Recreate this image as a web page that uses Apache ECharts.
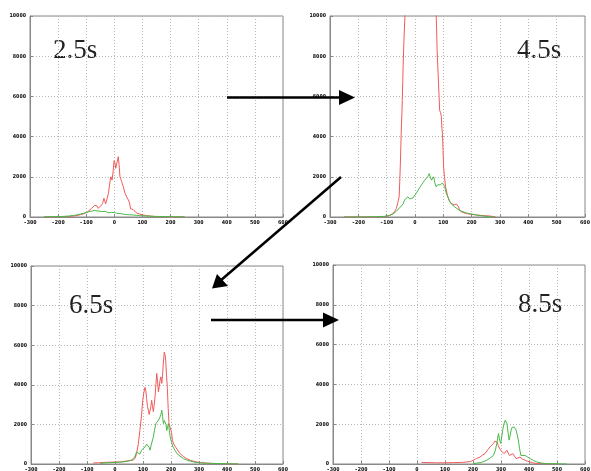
<!DOCTYPE html>
<html><head><meta charset="utf-8">
<script src="https://cdn.jsdelivr.net/npm/echarts@6/dist/echarts.min.js"></script>
<style>html,body{margin:0;padding:0;background:#fff}#c{width:591px;height:471px}</style>
</head><body><div id="c"></div>
<script>
// tick labels
const xTicks = [-300,-200,-100,0,100,200,300,400,500,600];
const yTicks = [0,2000,4000,6000,8000,10000];
const panelLabels = ['2.5s','4.5s','6.5s','8.5s'];

// 2.5 s
const t25Red = [[-250,0],[-220,10],[-200,20],[-180,10],[-160,30],[-150,40],[-140,60],[-130,80],[-120,120],[-110,150],[-104,180],[-95,260],[-88,330],[-81,430],[-75,500],[-70,580],[-66,650],[-62,560],[-57,430],[-52,520],[-45,600],[-41,720],[-37,930],[-34,800],[-31,650],[-27,850],[-21,1180],[-17,1600],[-13,2000],[-10,2050],[-8,1840],[-4,2300],[-1,2800],[2,2700],[5,2420],[9,2500],[14,3000],[17,2600],[20,2000],[23,1900],[26,1760],[32,1500],[38,1180],[44,1000],[50,850],[54,700],[58,400],[63,420],[67,380],[73,300],[79,200],[90,150],[103,100],[115,70],[126,50],[140,30],[150,10],[170,0],[200,0],[250,0]];
const t25Green = [[-250,10],[-230,15],[-200,20],[-180,30],[-160,50],[-145,80],[-134,100],[-120,150],[-104,200],[-95,240],[-87,280],[-78,300],[-70,320],[-63,340],[-58,300],[-51,250],[-45,270],[-38,290],[-33,280],[-26,230],[-20,210],[-16,200],[-10,230],[-5,210],[0,220],[8,190],[14,180],[20,170],[30,150],[43,120],[55,110],[67,100],[78,85],[90,70],[105,55],[126,40],[150,30],[180,20],[210,15],[250,10]];

// 4.5 s
const t45Red = [[-250,0],[-150,0],[-120,10],[-101,20],[-90,80],[-78,170],[-72,280],[-66,420],[-61,700],[-56,1000],[-54,1700],[-52,2500],[-50,3500],[-48,4480],[-46,5200],[-45,5800],[-43,6800],[-42,7470],[-39,8800],[-36,9800],[-33,10600],[-25,12000],[0,14000],[30,15000],[60,13000],[72,11000],[76,9500],[78,8300],[82,7000],[85,6000],[87,5310],[90,5200],[93,5000],[95,4400],[97,4150],[99,3300],[101,2490],[104,2000],[108,1500],[114,1100],[120,830],[126,700],[131,650],[138,600],[146,650],[150,700],[154,500],[157,330],[165,250],[181,170],[200,130],[217,100],[240,70],[264,50],[285,0]];
const t45Green = [[-250,0],[-200,0],[-150,10],[-110,30],[-89,80],[-78,150],[-66,280],[-55,450],[-48,550],[-42,650],[-38,800],[-34,900],[-29,850],[-25,1000],[-19,900],[-13,830],[-7,950],[-1,1000],[5,1200],[11,1330],[16,1450],[22,1580],[28,1700],[34,1830],[40,1830],[45,2000],[50,2160],[54,2000],[58,1830],[62,1900],[66,2000],[70,1700],[75,1500],[80,1600],[85,1660],[90,1600],[97,1700],[101,1600],[105,1500],[110,1200],[116,1000],[122,800],[128,650],[134,580],[140,500],[148,420],[157,330],[170,260],[181,200],[200,150],[217,100],[240,50],[260,20],[280,0]];

// 6.5 s
const t65Red = [[-78,50],[-60,60],[-40,80],[-20,90],[0,100],[18,100],[40,150],[65,190],[72,300],[77,530],[83,1000],[89,1700],[95,2500],[99,3220],[103,3600],[107,3870],[110,3700],[113,3310],[116,2900],[119,2720],[122,2500],[125,2550],[128,2900],[131,3220],[134,2900],[137,2640],[140,3000],[143,3390],[146,4000],[149,4575],[152,4200],[155,3640],[158,3900],[161,4240],[164,4400],[167,4070],[170,4500],[173,5200],[176,5650],[179,5500],[181,5250],[184,4500],[187,3815],[190,2800],[193,2040],[196,1950],[199,2040],[202,1600],[205,1200],[210,1000],[216,860],[224,700],[232,530],[244,380],[256,270],[270,180],[292,100],[320,50],[350,20],[400,10],[440,0]];
const t65Green = [[-53,30],[-30,60],[0,80],[20,100],[40,120],[60,200],[70,350],[77,600],[83,530],[89,500],[95,700],[101,800],[107,860],[113,1000],[119,1030],[122,850],[125,700],[130,1000],[137,1370],[141,1700],[146,2040],[150,2100],[155,2210],[158,2300],[161,2380],[164,2500],[167,2720],[170,2400],[173,2040],[176,2200],[179,2300],[182,2000],[185,1690],[188,1900],[191,2040],[194,1700],[197,1370],[202,1100],[207,860],[214,700],[221,530],[232,400],[245,270],[260,180],[281,100],[310,50],[350,30],[400,15],[440,0]];

// 8.5 s
const t85Red = [[16,80],[40,70],[70,60],[100,60],[130,70],[160,80],[190,120],[201,190],[213,280],[225,350],[234,450],[243,520],[252,700],[261,860],[267,950],[273,1030],[278,1150],[282,1250],[286,1100],[290,940],[294,800],[299,690],[305,600],[311,520],[316,600],[321,690],[326,550],[330,430],[336,480],[342,520],[348,400],[354,270],[360,300],[368,350],[376,250],[386,190],[395,140],[404,100],[416,50],[428,20],[460,10],[500,0]];
const t85Green = [[200,20],[230,80],[249,190],[261,300],[273,430],[280,700],[285,1030],[288,1300],[291,1530],[295,1200],[299,1030],[303,1400],[306,1700],[310,2000],[315,2200],[318,2150],[321,2030],[325,1600],[329,1200],[333,1450],[336,1700],[340,1850],[344,1950],[348,1850],[354,1700],[358,1450],[362,1200],[366,800],[371,430],[378,400],[386,430],[395,350],[404,270],[416,180],[428,100],[445,50],[462,20],[500,10],[535,0]];

const reds = [t25Red, t45Red, t65Red, t85Red];
const greens = [t25Green, t45Green, t65Green, t85Green];

const grids = [
  {left:30, top:16, width:253, height:201},
  {left:330, top:16, width:255, height:201},
  {left:31, top:266, width:252, height:198},
  {left:333, top:265, width:252, height:199}
];

const lblStyle = {fontSize:5.5, fontWeight:'bold', color:'#000', fontFamily:'DejaVu Sans Mono', formatter: v => String(v)};
const option = {
  animation:false,
  backgroundColor:'#fff',
  grid: grids.map(g => Object.assign({show:true, borderColor:'#888', borderWidth:1, backgroundColor:'transparent', outerBoundsMode:'none', containLabel:false}, g)),
  xAxis: grids.map((g,i) => ({
    type:'value', gridIndex:i, min:xTicks[0], max:xTicks[xTicks.length-1], interval:100,
    axisLine:{show:true, onZero:false, lineStyle:{color:'#888', width:1}},
    axisTick:{show:true, inside:true, length:3, lineStyle:{color:'#888'}},
    axisLabel:Object.assign({margin:3}, lblStyle),
    splitLine:{show:true, lineStyle:{type:[1,2], color:'#b8b8b8', width:1}}
  })),
  yAxis: grids.map((g,i) => ({
    type:'value', gridIndex:i, min:yTicks[0], max:yTicks[yTicks.length-1], interval:2000,
    axisLine:{show:true, onZero:false, lineStyle:{color:'#888', width:1}},
    axisTick:{show:true, inside:true, length:3, lineStyle:{color:'#888'}},
    axisLabel:Object.assign({margin:4}, lblStyle),
    splitLine:{show:true, lineStyle:{type:[1,2], color:'#b8b8b8', width:1}}
  })),
  series: [].concat(
    reds.map((d,i) => ({type:'line', xAxisIndex:i, yAxisIndex:i, data:d, showSymbol:false, symbol:'none', clip:true, lineStyle:{color:'#f05a5a', width:1}, z:3})),
    greens.map((d,i) => ({type:'line', xAxisIndex:i, yAxisIndex:i, data:d, showSymbol:false, symbol:'none', clip:true, lineStyle:{color:'#48b848', width:1}, z:4}))
  ),
  graphic: [
    {type:'text', left:53, top:37, style:{text:panelLabels[0], font:'27px "Liberation Serif", "Times New Roman", serif', fill:'#222'}},
    {type:'text', left:517, top:37, style:{text:panelLabels[1], font:'27px "Liberation Serif", "Times New Roman", serif', fill:'#222'}},
    {type:'text', left:69, top:292, style:{text:panelLabels[2], font:'27px "Liberation Serif", "Times New Roman", serif', fill:'#222'}},
    {type:'text', left:518, top:291, style:{text:panelLabels[3], font:'27px "Liberation Serif", "Times New Roman", serif', fill:'#222'}},
    // arrows
    {type:'line', shape:{x1:227, y1:97.5, x2:342, y2:97.5}, style:{stroke:'#000', lineWidth:2.5}, z:10},
    {type:'polygon', shape:{points:[[355,97.5],[339,90],[339,105]]}, style:{fill:'#000'}, z:10},
    {type:'line', shape:{x1:341, y1:177, x2:220, y2:281}, style:{stroke:'#000', lineWidth:2.5}, z:10},
    {type:'polygon', shape:{points:[[212,288.5],[217,274],[228,286]]}, style:{fill:'#000'}, z:10},
    {type:'line', shape:{x1:211, y1:320, x2:326, y2:320}, style:{stroke:'#000', lineWidth:2.5}, z:10},
    {type:'polygon', shape:{points:[[339,320],[323,312.5],[323,327.5]]}, style:{fill:'#000'}, z:10}
  ]
};
const chart = echarts.init(document.getElementById('c'), null, {renderer:'canvas'});
chart.setOption(option);
</script></body></html>
